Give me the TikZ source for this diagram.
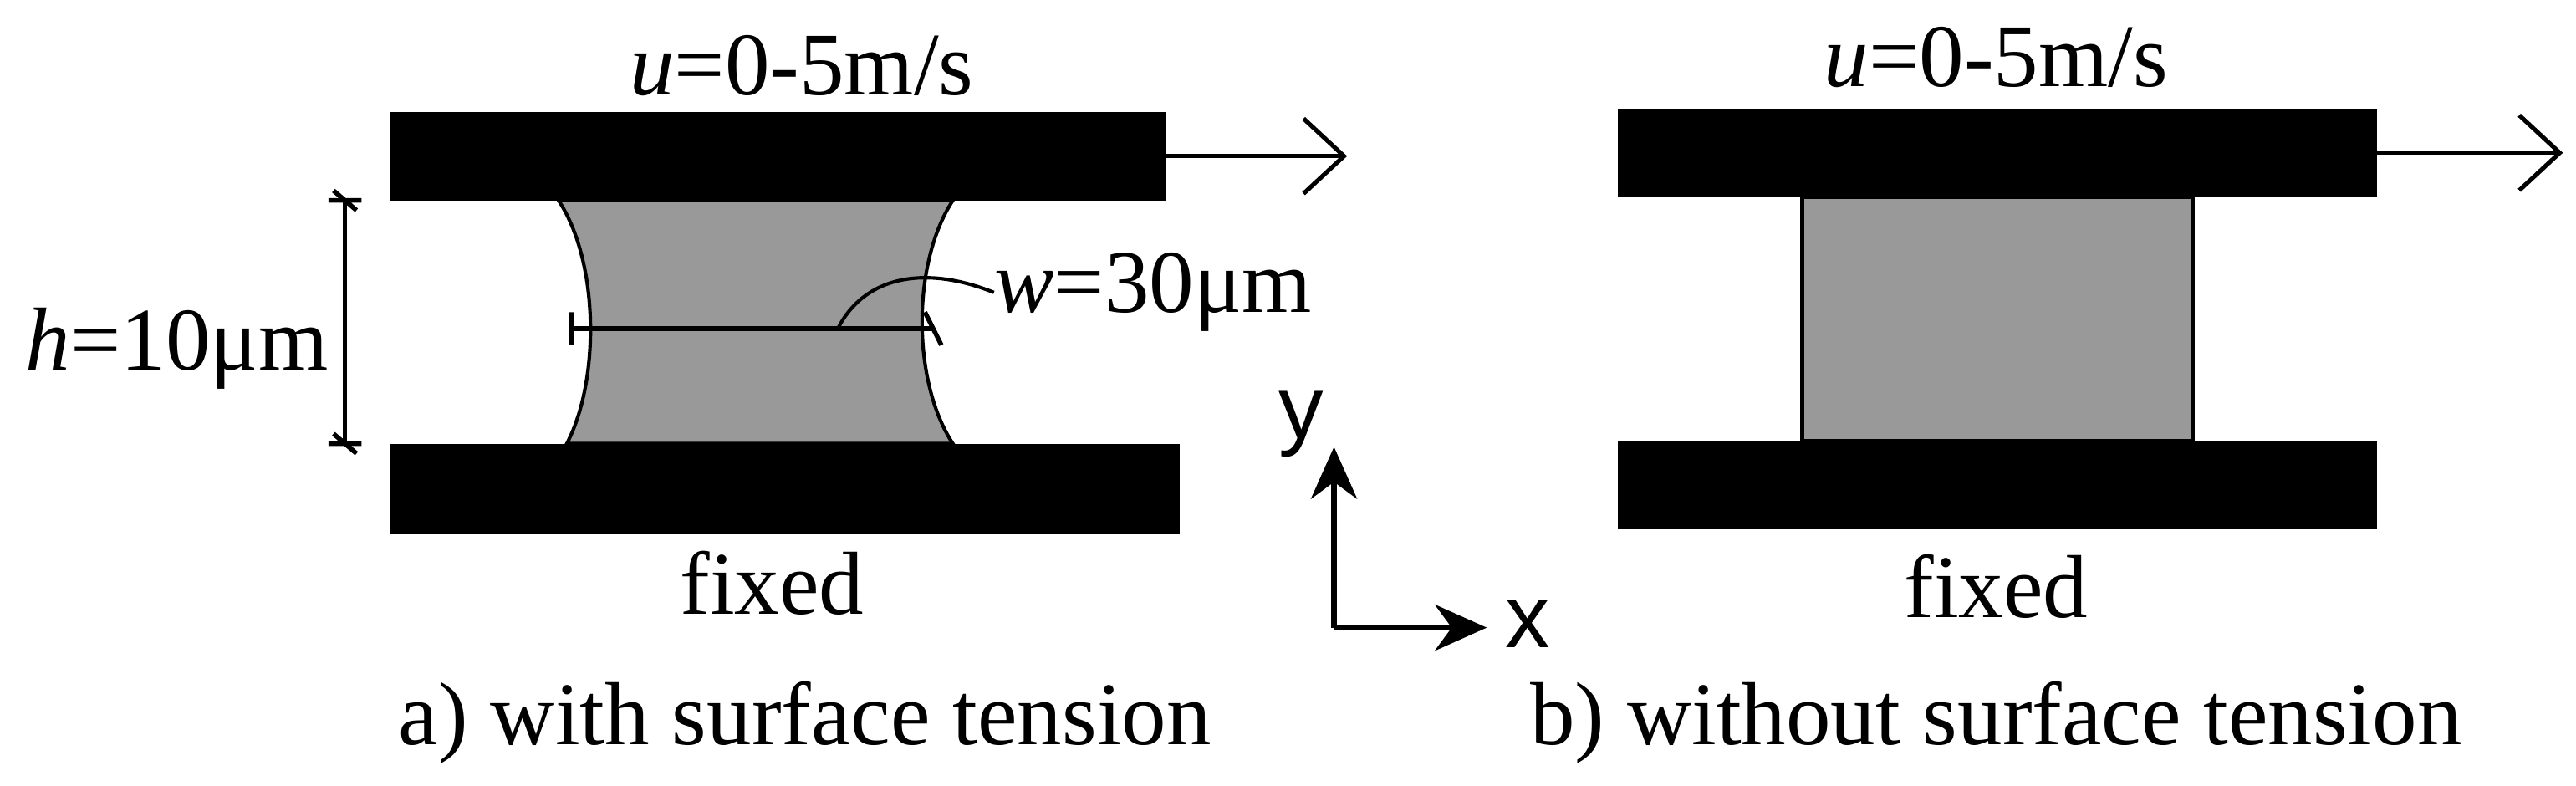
\documentclass[tikz,border=0pt]{standalone}
\usepackage{fontspec}
\setmainfont{Liberation Serif}
\newfontfamily\sansf{Liberation Sans}
\usetikzlibrary{arrows.meta}
\begin{document}
\begin{tikzpicture}[x=0.02cm,y=-0.02cm,
  plate/.style={fill=black},
  liq/.style={fill=black!40,draw=black,line width=1.2pt},
  lbl/.style={font=\fontsize{31}{36}\selectfont,inner sep=0pt},
  arr/.style={line width=1.5pt,-{Straight Barb[length=14pt,width=26pt]}},
  tick/.style={line width=1.6pt}]
\useasboundingbox (0,0) rectangle (1568,478);
% panel a
\fill[plate] (237,68) rectangle (710,122);
\fill[plate] (237,270) rectangle (718,325);
\path[liq] (340,122) -- (580,122) .. controls (555,160) and (555,232) .. (580,270) -- (345,270) .. controls (365,232) and (365,160) .. (340,122) -- cycle;
\coordinate (h1) at (210,122); \coordinate (h2) at (210,270);
\draw[tick] (h1) -- (h2);
\draw[tick] (200,122)--(220,122) (203,116)--(217,128);
\draw[tick] (200,270)--(220,270) (203,264)--(217,276);
\node[lbl,anchor=east] (hl) at (200,212) {\textit{h}=10μm};
\coordinate (w1) at (348,200); \coordinate (w2) at (568,200);
\draw[tick] (w1) -- (w2);
\draw[tick] (348,190)--(348,210) (563,190)--(573,210);
\node[lbl,anchor=west] (wl) at (605,178) {\textit{w}=30μm};
\draw[line width=1.2pt] (510,200) .. controls (525,170) and (560,160) .. (wl.west);
\node[lbl] (ua) at (488,40) {\textit{u}=0-5m/s};
\coordinate (a1) at (710,95); \coordinate (a2) at (820,95);
\draw[arr] (a1) -- (a2);
\node[lbl] (fa) at (470,355) {fixed};
\node[lbl] (ca) at (490,440) {a) with surface tension};
% axes
\coordinate (o) at (812,382);
\coordinate (oy) at (812,272);
\coordinate (ox) at (905,382);
\draw[line width=1.8pt,-{Stealth[length=18pt,width=16pt]}] (o) -- (oy);
\draw[line width=1.8pt,-{Stealth[length=18pt,width=16pt]}] (o) -- (ox);
\node[lbl,font=\sansf\fontsize{31}{36}\selectfont] (yl) at (792,258) {y};
\node[lbl,font=\sansf\fontsize{31}{36}\selectfont] (xl) at (930,380) {x};
% panel b
\fill[plate] (985,66) rectangle (1447,120);
\fill[plate] (985,268) rectangle (1447,322);
\path[liq] (1097,120) rectangle (1335,268);
\node[lbl] (ub) at (1215,35) {\textit{u}=0-5m/s};
\coordinate (b1) at (1447,93); \coordinate (b2) at (1560,93);
\draw[arr] (b1) -- (b2);
\node[lbl] (fb) at (1215,357) {fixed};
\node[lbl] (cb) at (1215,440) {b) without surface tension};
\end{tikzpicture}
\end{document}
